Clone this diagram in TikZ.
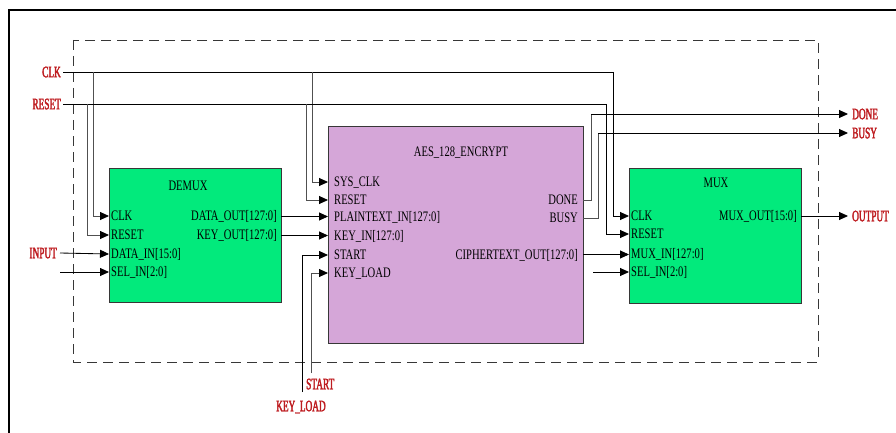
\documentclass[tikz,border=0pt]{standalone}
\usepackage{fontspec}
\setmainfont{Liberation Serif}
\newfontfamily\pinfont{Liberation Serif}[FakeStretch=0.73]
\newfontfamily\lblfont{Liberation Serif}[FakeStretch=0.58,FakeBold=2.2]
\usetikzlibrary{arrows.meta}
\definecolor{boxgreen}{RGB}{2,234,124}
\definecolor{boxpurple}{RGB}{213,166,216}
\definecolor{lblred}{RGB}{190,28,32}
\definecolor{edgegray}{RGB}{55,55,55}
\definecolor{branchgray}{RGB}{80,80,80}
\begin{document}
\begin{tikzpicture}[x=1pt,y=-1pt,
  wire/.style={draw=black,line width=0.85pt},
  bwire/.style={draw=branchgray,line width=0.85pt},
  arr/.style={-{Triangle[length=9pt,width=8pt,fill=black,color=black]}},
  blockg/.style={draw=edgegray,fill=boxgreen,line width=0.8pt,inner sep=0pt,anchor=north west},
  blockp/.style={draw=edgegray,fill=boxpurple,line width=0.8pt,inner sep=0pt,anchor=north west},
  pin/.style={font=\pinfont\fontsize{14.5}{15}\selectfont,inner sep=0pt,text height=9.5pt,text depth=0pt},
  lbl/.style={font=\lblfont\fontsize{16}{17}\selectfont,text=lblred,inner sep=0pt,text height=10.5pt,text depth=0pt}
]
\useasboundingbox (0,0) rectangle (896,433);
% outer frame (only top and left visible)
\draw[line width=2pt] (9,433) -- (9,10) -- (896,10);
% dashed boundary
\draw[edgegray,line width=0.8pt,dash pattern=on 10pt off 6pt] (73,40) rectangle (818,362);

% blocks
\node[blockg,minimum width=172pt,minimum height=134pt] (demux) at (109,168) {};
\node[blockp,minimum width=255pt,minimum height=217pt] (aes) at (328,126) {};
\node[blockg,minimum width=172pt,minimum height=135pt] (mux) at (629,168) {};

% titles
\node[pin] (demuxt) at (188,186) {DEMUX};
\node[pin] (aest) at (461,152) {AES\_128\_ENCRYPT};
\node[pin] (muxt) at (716,183) {MUX};

% DEMUX pins
\node[pin,anchor=west] (d1) at (111,216) {CLK};
\node[pin,anchor=west] (d2) at (111,235) {RESET};
\node[pin,anchor=west] (d3) at (111,254) {DATA\_IN[15:0]};
\node[pin,anchor=west] (d4) at (111,272) {SEL\_IN[2:0]};
\node[pin,anchor=east] (d5) at (277,216) {DATA\_OUT[127:0]};
\node[pin,anchor=east] (d6) at (277,235) {KEY\_OUT[127:0]};

% AES pins
\node[pin,anchor=west] (a1) at (334,182) {SYS\_CLK};
\node[pin,anchor=west] (a2) at (334,200) {RESET};
\node[pin,anchor=west] (a3) at (334,217) {PLAINTEXT\_IN[127:0]};
\node[pin,anchor=west] (a4) at (334,236) {KEY\_IN[127:0]};
\node[pin,anchor=west] (a5) at (334,255) {START};
\node[pin,anchor=west] (a6) at (334,273) {KEY\_LOAD};
\node[pin,anchor=east] (a7) at (578,200) {DONE};
\node[pin,anchor=east] (a8) at (578,218) {BUSY};
\node[pin,anchor=east] (a9) at (578,255) {CIPHERTEXT\_OUT[127:0]};

% MUX pins
\node[pin,anchor=west] (m1) at (631,216) {CLK};
\node[pin,anchor=west] (m2) at (631,234) {RESET};
\node[pin,anchor=west] (m3) at (631,254) {MUX\_IN[127:0]};
\node[pin,anchor=west] (m4) at (631,272) {SEL\_IN[2:0]};
\node[pin,anchor=east] (m5) at (797,216) {MUX\_OUT[15:0]};

% external labels
\node[lbl,anchor=east] (lclk) at (61,72) {CLK};
\node[lbl,anchor=east] (lrst) at (61,104) {RESET};
\node[lbl,anchor=east] (linput) at (57,253) {INPUT};
\node[lbl,anchor=west] (ldone) at (852,114) {DONE};
\node[lbl,anchor=west] (lbusy) at (852,133) {BUSY};
\node[lbl,anchor=west] (lout) at (852,216) {OUTPUT};
\node[lbl,anchor=west] (lstart) at (306,384) {START};
\node[lbl,anchor=west] (lkload) at (276,406) {KEY\_LOAD};

% pin coordinates on block edges
\coordinate (dclk) at (109,216);
\coordinate (drst) at (109,235);
\coordinate (ddin) at (109,254);
\coordinate (dsel) at (109,272);
\coordinate (ddout) at (281,216.5);
\coordinate (dkout) at (281,235.5);
\coordinate (aclk) at (328,182);
\coordinate (arst) at (328,200);
\coordinate (apt) at (328,216.5);
\coordinate (akey) at (328,235.5);
\coordinate (astart) at (328,255);
\coordinate (akl) at (328,273);
\coordinate (adone) at (583,200);
\coordinate (abusy) at (583,218);
\coordinate (act) at (583,254.5);
\coordinate (mclk) at (629,216);
\coordinate (mrst) at (629,234);
\coordinate (min) at (629,254.5);
\coordinate (msel) at (629,272);
\coordinate (mout) at (801,216);
% free ends and bends
\coordinate (dselfree) at (60,272);
\coordinate (mselfree) at (593,272);
\coordinate (klend) at (302,392);
\coordinate (stend) at (311,373);
\coordinate (clkb1) at (93,72);
\coordinate (clkb2) at (312,72);
\coordinate (clkb3) at (613,72);
\coordinate (rstb1) at (87,104);
\coordinate (rstb2) at (306,104);
\coordinate (rstb3) at (606,104);
\coordinate (doneb) at (591,114);
\coordinate (busyb) at (598,133);

% clock and reset distribution
\draw[wire] ([xshift=2pt]lclk.east) -- (clkb3);
\draw[wire,arr] (clkb3) |- (mclk);
\draw[bwire,arr] (clkb1) |- (dclk);
\draw[bwire,arr] (clkb2) |- (aclk);
\draw[wire] ([xshift=2pt]lrst.east) -- (rstb3);
\draw[wire,arr] (rstb3) |- (mrst);
\draw[bwire,arr] (rstb1) |- (drst);
\draw[bwire,arr] (rstb2) |- (arst);

% DEMUX inputs
\draw[wire,arr] ([xshift=3pt]linput.east) -- (ddin);
\draw[wire,arr] (dselfree) -- (dsel);

% DEMUX -> AES
\draw[wire,arr] (ddout) -- (apt);
\draw[wire,arr] (dkout) -- (akey);

% START / KEY_LOAD
\draw[wire,arr] (klend) |- (astart);
\draw[bwire,arr] (stend) |- (akl);

% AES -> outputs
\draw[bwire] (adone) -| (doneb);
\draw[wire,arr] (doneb) -- ([xshift=-4pt]ldone.west);
\draw[bwire] (abusy) -| (busyb);
\draw[wire,arr] (busyb) -- ([xshift=-4pt]lbusy.west);
\draw[wire,arr] (act) -- (min);
\draw[wire,arr] (mselfree) -- (msel);
\draw[wire,arr] (mout) -- ([xshift=-4pt]lout.west);
\end{tikzpicture}
\end{document}
